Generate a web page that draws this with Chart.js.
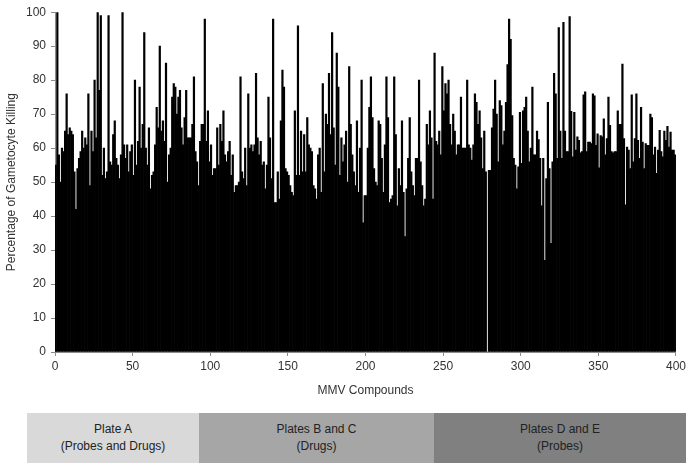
<!DOCTYPE html>
<html>
<head>
<meta charset="utf-8">
<script src="https://cdn.jsdelivr.net/npm/chart.js@4/dist/chart.umd.min.js"></script>
<style>
  html, body { margin: 0; padding: 0; background: #fff; }
  #wrap { position: relative; width: 689px; height: 466px; overflow: hidden; font-family: "Liberation Sans", Arial, sans-serif; }
  #c { position: absolute; left: 0; top: 0; }
  .plate { position: absolute; top: 413px; height: 50px; display: flex; flex-direction: column; justify-content: center; align-items: center; font-size: 12px; line-height: 17px; color: #222; text-align: center; }
</style>
</head>
<body>
<div id="wrap">
  <canvas id="c" width="689" height="466"></canvas>
  <div class="plate" id="p0" style="left:27px; width:172px; background:#d9d9d9;"></div>
  <div class="plate" id="p1" style="left:199px; width:235px; background:#a6a6a6;"></div>
  <div class="plate" id="p2" style="left:434px; width:252px; background:#808080;"></div>
</div>
<script>
// Percentage of gametocyte killing for each of the 400 MMV compounds (in order)
const killing1to100 = [
  55,100,58,50,60,59,65,76,64,66,65,64,53,42,54,57,59,65,60,63,61,76,49,65,59,80,63,100,77,99,52,60,51,
  53,99,56,55,64,68,57,55,51,58,100,61,57,61,53,59,61,52,80,55,62,78,60,67,94,60,55,66,48,52,53,61,72,
  66,90,65,68,62,85,50,58,60,75,79,78,70,75,77,66,61,69,77,63,63,63,67,81,59,56,49,62,67,67,98,62,71,56
];
const killing101to200 = [
  61,52,54,54,66,55,67,62,71,58,56,59,62,52,58,47,49,49,50,81,53,51,60,49,76,60,61,59,61,82,63,58,62,
  55,56,48,55,75,63,51,98,44,44,53,45,68,83,78,54,53,52,49,47,46,71,52,96,52,65,53,64,53,69,61,60,59,49,
  48,45,58,60,47,79,53,70,67,82,64,94,66,55,88,78,52,63,56,61,65,50,84,67,58,53,49,68,47,60,80,38,46
];
const killing201to300 = [
  46,60,72,81,69,54,50,49,68,67,57,47,61,81,69,44,45,46,81,64,43,54,49,68,47,34,48,57,69,53,49,46,57,
  57,80,56,49,43,45,67,61,71,63,45,88,62,61,65,58,84,71,79,76,80,67,61,70,65,58,61,61,75,60,60,60,80,61,60,
  56.5,61,76,73.5,67,71,63,54,65,53,0,53.5,53.5,66,71.5,80,70,56,74,72.5,61,65,73.5,84.6,98,92,69.6,57,55,48,54.5,70.5
];
const killing301to400 = [
  55.5,71,72,75,65,56,60,78,58,58,65,62.5,57,43,57,27,51,73.5,54,32,56,82,76,57,95.5,65,57,97,65,59,59,98.7,70.8,57.4,
  70.5,59.4,63.3,62.3,58.6,59,75.7,76.6,59,61.8,61.8,61.3,76,75.4,60.8,64.2,54.2,63.7,63.3,68.6,58,62.8,75,66.7,59,58.6,59,59,71,67,67,84.7,62.8,43.3,
  60.3,59.4,54,75.7,56,62.8,76,62.3,57,72,61.8,54,61.3,60.8,60.8,70,69,58,60.3,52.6,59.4,65.2,59,57.4,65,62.3,66.4,60.3,64.7,59.4,59.4,58
];
const killing = [].concat(killing1to100, killing101to200, killing201to300, killing301to400);

const xTicks = [0, 50, 100, 150, 200, 250, 300, 350, 400];
const yTicks = [0, 10, 20, 30, 40, 50, 60, 70, 80, 90, 100];
const xTitle = "MMV Compounds";
const yTitle = "Percentage of Gametocyte Killing";
const plateNames = ["Plate A", "Plates B and C", "Plates D and E"];
const plateContents = ["(Probes and Drugs)", "(Drugs)", "(Probes)"];

plateNames.forEach((n, i) => {
  const el = document.getElementById("p" + i);
  el.innerHTML = "";
  const a = document.createElement("div"); a.textContent = n;
  const b = document.createElement("div"); b.textContent = plateContents[i];
  el.appendChild(a); el.appendChild(b);
});

const points = killing.map((v, i) => ({ x: i + 0.5, y: v }));
const txt = "#333333";
const axisCol = "#8c8c8c";
const font = { family: "'Liberation Sans', Arial, sans-serif", size: 12 };

new Chart(document.getElementById("c"), {
  type: "bar",
  data: {
    datasets: [{
      data: points,
      backgroundColor: "#000000",
      borderWidth: 0,
      barPercentage: 1.0,
      categoryPercentage: 1.0
    }]
  },
  options: {
    responsive: false,
    devicePixelRatio: 1,
    animation: false,
    layout: { padding: { top: 9, right: 12, left: 0, bottom: 64 } },
    plugins: { legend: { display: false }, tooltip: { enabled: false } },
    scales: {
      x: {
        type: "linear",
        offset: false,
        min: 0, max: 400,
        afterBuildTicks: (s) => { s.ticks = xTicks.map(v => ({ value: v })); },
        afterFit: (s) => { s.height = 50; },
        ticks: { autoSkip: false, maxRotation: 0, color: txt, font: font, padding: 3 },
        grid: { display: true, offset: false, drawOnChartArea: false, drawTicks: true, tickLength: 4, color: axisCol },
        border: { display: true, color: axisCol, width: 1 },
        title: { display: true, text: xTitle, color: txt, font: { family: font.family, size: 12 }, padding: { top: 4, bottom: 4 } }
      },
      y: {
        min: 0, max: 100,
        afterBuildTicks: (s) => { s.ticks = yTicks.map(v => ({ value: v })); },
        afterFit: (s) => { s.width = 55; },
        ticks: { color: txt, font: font, padding: 5 },
        grid: { display: true, drawOnChartArea: false, drawTicks: true, tickLength: 4, color: axisCol },
        border: { display: true, color: axisCol, width: 1 },
        title: { display: true, text: yTitle, color: txt, font: { family: font.family, size: 12 }, padding: { top: 4, bottom: 4 } }
      }
    }
  }
});
</script>
</body>
</html>
